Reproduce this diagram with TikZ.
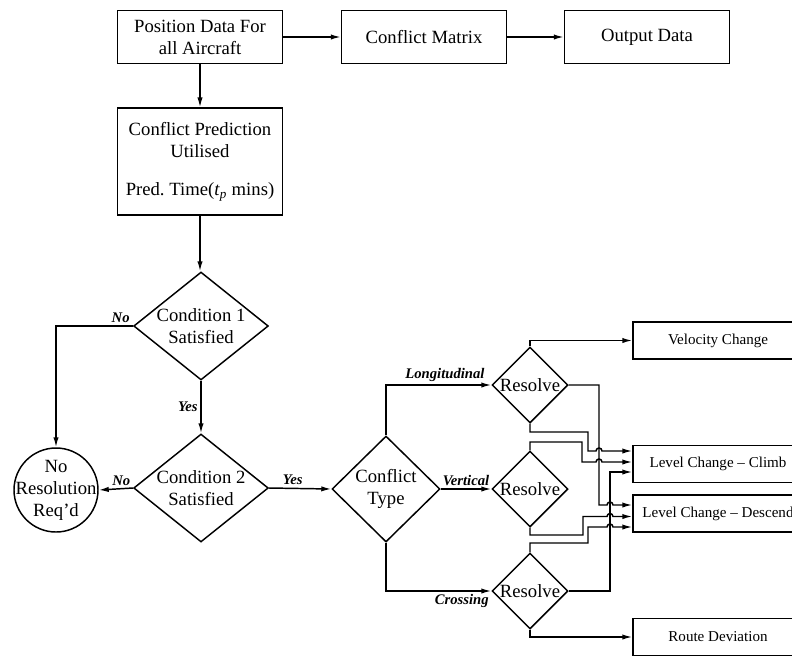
\documentclass[tikz,border=0pt]{standalone}
\usepackage{fontspec}
\setmainfont{Liberation Serif}
\usetikzlibrary{shapes.geometric, arrows.meta, calc}

\tikzset{
  bigtxt/.style={font=\fontsize{14}{16.5}\selectfont},
  box/.style={draw, rectangle, bigtxt, align=center, minimum width=123.75pt, minimum height=39.75pt, inner sep=2pt},
  outbox/.style={draw, rectangle, font=\fontsize{11.3}{13}\selectfont, minimum width=127.5pt, minimum height=27.75pt, inner sep=1pt},
  decision/.style={draw, diamond, bigtxt, align=center, inner sep=0pt, aspect=1.24, minimum width=101pt, minimum height=81pt},
  resolve/.style={draw, diamond, bigtxt, inner sep=0pt, minimum size=57pt},
  lbl/.style={font=\fontsize{11}{13}\selectfont\bfseries\itshape, inner sep=2pt},
  flow/.style={-{Latex[length=7.5pt,width=4pt]}},
}

\begin{document}
\begin{tikzpicture}[x=0.75pt, y=-0.75pt, line width=1.1pt]
  \useasboundingbox (0,0) rectangle (792,658);
  \clip (0,0) rectangle (792,658);
  % top row
  \node[box] (pos) at (200,37) {Position Data For\\all Aircraft};
  \node[box] (cmatrix) at (424,37) {Conflict Matrix};
  \node[box] (output) at (647,37) {Output Data};
  \node[box, minimum height=80pt] (pred) at (200,161.5) {Conflict Prediction\\Utilised\\[12pt]Pred.\ Time(\textit{t}\textsubscript{\textit{p}} mins)};
  % decisions
  \node[decision] (cond1) at (201,326) {Condition 1\\Satisfied};
  \node[decision] (cond2) at (201,488) {Condition 2\\Satisfied};
  \node[decision, aspect=1, minimum width=81pt, minimum height=79.5pt] (ctype) at (386,489) {Conflict\\Type};
  \node[draw, circle, minimum size=63pt, inner sep=0pt, label={[bigtxt, align=center]center:No\\Resolution\\Req'd}] (nores) at (56,490) {};
  \foreach \n/\y in {1/385, 2/489, 3/591}
    \node[resolve] (res\n) at (530,\y) {Resolve};
  % outcomes
  \node[outbox] (velo) at (718,340.5) {Velocity Change};
  \node[outbox] (climb) at (718,464) {Level Change -- Climb};
  \node[outbox] (desc) at (718,513.5) {Level Change -- Descend};
  \node[outbox] (route) at (718,637) {Route Deviation};
  \coordinate (c1) at ($(climb.west)+(0,-13)$);
  \coordinate (c2) at ($(climb.west)+(0,-2)$);
  \coordinate (c3) at ($(climb.west)+(0,8)$);
  \coordinate (d1) at ($(desc.west)+(0,-8.5)$);
  \coordinate (d2) at ($(desc.west)+(0,3)$);
  \coordinate (d3) at ($(desc.west)+(0,13.5)$);
  % main flow
  \draw[flow] (pos) -- (cmatrix);
  \draw[flow] (cmatrix) -- (output);
  \draw[flow] (pos.south) -- (pos.south |- pred.north);
  \draw[flow] (pred.south) -- (pred.south |- cond1.north);
  \draw[flow] (cond1.west) -| node[lbl, pos=0.08, above] {No} (nores.north);
  \draw[flow] (cond1.south) -- node[lbl, left] {Yes} (cond2.north);
  \draw[flow] (cond2.west) -- node[lbl, above, pos=0.34] {No} (nores.east);
  \draw[flow] (cond2.east) -- node[lbl, above, pos=0.38] {Yes} (ctype.west);
  \draw[flow] (ctype.north) |- node[lbl, above, pos=0.78] {Longitudinal} (res1.west);
  \draw[flow] (ctype.east) -- node[lbl, above] {Vertical} (res2.west);
  \draw[flow] (ctype.south) |- node[lbl, below, pos=0.86] {Crossing} (res3.west);
  % resolutions
  \draw[flow] (res1.north) |- (velo.west);
  \draw[flow] (res3.south) |- (route.west);
  \draw[flow] (res1.east) -| (599,505) -- (607,505) arc[start angle=180, end angle=360, radius=3] -- (d1);
  \draw[flow] (res1.south) |- (588,432) -- (588,451) -- (596,451) arc[start angle=180, end angle=360, radius=3] -- (c1);
  \draw[flow] (res2.north) |- (582,442) -- (582,462) -- (596,462) arc[start angle=180, end angle=360, radius=3] -- (c2);
  \draw[flow] (res3.east) -| (610,472) -- (c3);
  \draw[flow] (res2.south) |- (583,535) -- (583,516.5) -- (607,516.5) arc[start angle=180, end angle=360, radius=3] -- (d2);
  \draw[flow] (res3.north) |- (588,543) -- (588,527) -- (607,527) arc[start angle=180, end angle=360, radius=3] -- (d3);
\end{tikzpicture}
\end{document}
